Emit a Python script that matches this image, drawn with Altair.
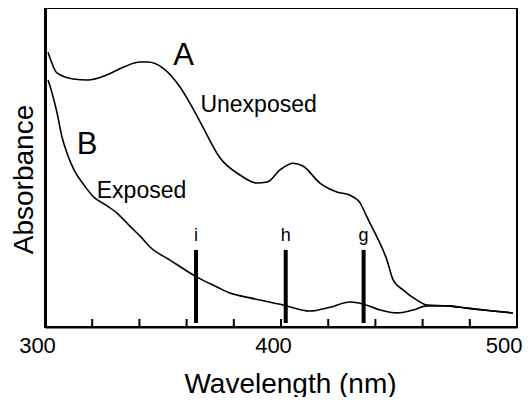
import altair as alt
import pandas as pd

# Curve A (Unexposed)
wl_a = [301.3, 305.1, 311.9, 318.2, 326.3, 333.1, 340.3, 343.6, 350.0, 357.2, 361.4, 366.9,
        374.2, 382.6, 389.8, 394.1, 399.6, 405.1, 409.3, 416.5, 423.7, 429.2, 433.5, 436.4,
        439.8, 444.9, 447.5, 451.7, 457.6, 461.9, 470.3, 478.8, 489.8, 498.3]
abs_a = [0.859, 0.794, 0.775, 0.772, 0.788, 0.812, 0.828, 0.828, 0.809, 0.750, 0.700, 0.625,
         0.528, 0.475, 0.450, 0.453, 0.491, 0.512, 0.503, 0.450, 0.422, 0.412, 0.388, 0.344,
         0.294, 0.209, 0.147, 0.116, 0.084, 0.069, 0.066, 0.059, 0.050, 0.044]

# Curve B (Exposed)
wl_b = [301.3, 303.0, 305.1, 307.2, 309.3, 312.3, 316.5, 320.8, 325.0, 330.5, 336.4, 340.7,
        344.5, 353.0, 364.4, 372.9, 378.4, 386.9, 400.8, 412.3, 420.8, 429.2, 434.7, 442.0,
        449.2, 455.9, 461.9, 470.3, 478.8, 489.8, 498.3]
abs_b = [0.772, 0.731, 0.669, 0.594, 0.544, 0.491, 0.444, 0.405, 0.385, 0.356, 0.312, 0.281,
         0.250, 0.209, 0.156, 0.125, 0.106, 0.091, 0.069, 0.050, 0.062, 0.078, 0.072, 0.053,
         0.044, 0.053, 0.066, 0.066, 0.059, 0.050, 0.044]

# Mercury lines
line_wl = [364, 402, 435]
line_names = ["i", "h", "g"]
line_low = [0.0125, 0.0125, 0.0125]
line_high = [0.241, 0.241, 0.241]
line_label_y = [0.269, 0.269, 0.269]

tick_wl = [300, 320, 340, 360, 380, 400, 420, 440, 460, 480, 500]
tick_len = [0.025] * len(tick_wl)
label_wl = [300, 400, 500]

big_text = ["A", "B"]
big_x = [358.7, 317.8]
big_y = [0.819, 0.541]
small_text = ["Unexposed", "Exposed"]
small_x = [390.5, 340.9]
small_y = [0.672, 0.403]

FONT = "Liberation Sans"

df_a = pd.DataFrame({"wl": wl_a, "a": abs_a})
df_b = pd.DataFrame({"wl": wl_b, "a": abs_b})
df_lines = pd.DataFrame({"wl": line_wl, "name": line_names, "lo": line_low,
                         "hi": line_high, "ly": line_label_y})
df_ticks = pd.DataFrame({"wl": tick_wl, "lo": [0.0] * len(tick_wl), "hi": tick_len})
df_big = pd.DataFrame({"wl": big_x, "a": big_y, "t": big_text})
df_small = pd.DataFrame({"wl": small_x, "a": small_y, "t": small_text})

xscale = alt.Scale(domain=[300, 500], nice=False, zero=False)
yscale = alt.Scale(domain=[0, 0.997], nice=False, zero=True)

x_axis = alt.Axis(values=label_wl, ticks=False, grid=False, labelFontSize=22,
                  labelPadding=8, labelFont=FONT, labelColor="black", labelFlush=False,
                  labelAlign={"condition": {"test": "datum.value == 500", "value": "right"},
                              "value": "center"},
                  labelOffset={"condition": {"test": "datum.value == 500", "value": 5},
                               "value": -8},
                  title="Wavelength (nm)", titleFont=FONT, titleFontSize=28,
                  titleFontWeight="normal", titleColor="black",
                  titleX=245, titleY=65, titleAlign="center", titleBaseline="alphabetic",
                  domainColor="black", domainWidth=2)
y_axis = alt.Axis(labels=False, ticks=False, grid=False, title="Absorbance",
                  titleFont=FONT, titleFontSize=28, titleFontWeight="normal",
                  titleColor="black", titleX=-13, titleY=171, titleAlign="center",
                  titleBaseline="alphabetic", titleAngle=270,
                  domainColor="black", domainWidth=3)

line_a = alt.Chart(df_a).mark_line(color="black", strokeWidth=1.6, interpolate="monotone").encode(
    x=alt.X("wl:Q", scale=xscale, axis=x_axis),
    y=alt.Y("a:Q", scale=yscale, axis=y_axis),
)
line_b = alt.Chart(df_b).mark_line(color="black", strokeWidth=1.6, interpolate="monotone").encode(
    x=alt.X("wl:Q", scale=xscale),
    y=alt.Y("a:Q", scale=yscale),
)
bars = alt.Chart(df_lines).mark_rule(color="black", strokeWidth=4).encode(
    x=alt.X("wl:Q", scale=xscale),
    y=alt.Y("lo:Q", scale=yscale),
    y2="hi:Q",
)
bar_labels = alt.Chart(df_lines).mark_text(font=FONT, fontSize=18, baseline="alphabetic",
                                           color="black").encode(
    x=alt.X("wl:Q", scale=xscale),
    y=alt.Y("ly:Q", scale=yscale),
    text="name:N",
)
ticks = alt.Chart(df_ticks).mark_rule(color="black", strokeWidth=2).encode(
    x=alt.X("wl:Q", scale=xscale),
    y=alt.Y("lo:Q", scale=yscale),
    y2="hi:Q",
)
big = alt.Chart(df_big).mark_text(font=FONT, fontSize=31, baseline="alphabetic",
                                  color="black").encode(
    x=alt.X("wl:Q", scale=xscale),
    y=alt.Y("a:Q", scale=yscale),
    text="t:N",
)
small = alt.Chart(df_small).mark_text(font=FONT, fontSize=23, baseline="alphabetic",
                                      color="black").encode(
    x=alt.X("wl:Q", scale=xscale),
    y=alt.Y("a:Q", scale=yscale),
    text="t:N",
)

chart = alt.layer(line_a, line_b, bars, bar_labels, ticks, big, small).properties(
    width=472, height=319,
    autosize=alt.AutoSizeParams(type="none"),
    padding={"left": 37, "top": 0, "right": 6, "bottom": 70},
    background="white",
).configure_view(stroke="black", strokeWidth=2)

chart.save("out.html", embed_options={"renderer": "svg", "actions": False})
